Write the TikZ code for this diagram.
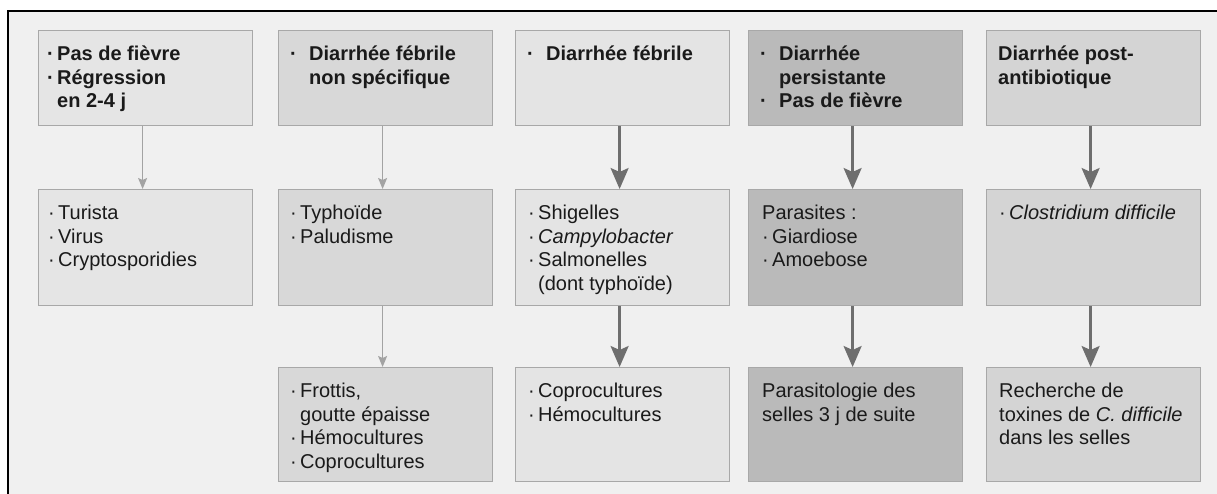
\documentclass[tikz,border=0pt]{standalone}
\usepackage{fontspec}
\setmainfont{Liberation Sans}
\usetikzlibrary{arrows.meta,calc}
\definecolor{bgc}{HTML}{F0F0F0}
\definecolor{cA}{HTML}{E5E5E5}
\definecolor{cB}{HTML}{D8D8D8}
\definecolor{cC}{HTML}{E4E4E4}
\definecolor{cD}{HTML}{BABABA}
\definecolor{cE}{HTML}{D4D4D4}
\definecolor{bordc}{HTML}{A8A8A8}
\definecolor{thinc}{HTML}{A3A3A3}
\definecolor{thickc}{HTML}{6E6E6E}
\definecolor{txtc}{HTML}{1A1A1A}
\newcommand\bl{\makebox[10pt][l]{·}}
\newcommand\bw{\makebox[19pt][l]{·}}
\newcommand\ia{\hspace*{10pt}}
\newcommand\iw{\hspace*{19pt}}
\newcommand\lines[1]{\begin{tabular}[t]{@{}l@{}}#1\end{tabular}}
\begin{document}
\begin{tikzpicture}[x=1pt,y=-1pt,
  boxA/.style={draw=bordc, line width=1.2pt, minimum width=214pt, anchor=north west, inner sep=0pt},
  rowone/.style={boxA, minimum height=95pt},
  rowtwo/.style={boxA, minimum height=116pt},
  rowthree/.style={boxA, minimum height=114pt},
  txt/.style={anchor=base west, inner sep=0pt, text=txtc, font=\fontsize{20}{23.5}\selectfont},
  btxt/.style={txt, font=\fontsize{20}{23.5}\selectfont\bfseries},
  thinarrow/.style={draw=thinc, line width=1.2pt, -{Stealth[length=11pt,width=9pt,inset=2pt]}},
  thickarrow/.style={draw=thickc, line width=2.4pt, -{Stealth[length=21pt,width=18pt,inset=4pt]}}
]
\useasboundingbox (0,0) rectangle (1217,493);
\clip (0,0) rectangle (1217,493);
\fill[white] (0,0) rectangle (1217,493);
\fill[bgc] (8,11) rectangle (1225,500);
\draw[black, line width=1.6pt] (8,500) -- (8,11) -- (1225,11);

% row 1
\node[rowone, fill=cA] (b11) at (38,30) {};
\node[rowone, fill=cB] (b12) at (278,30) {};
\node[rowone, fill=cC] (b13) at (515,30) {};
\node[rowone, fill=cD] (b14) at (748,30) {};
\node[rowone, fill=cE] (b15) at (986,30) {};
% row 2
\node[rowtwo, fill=cA] (b21) at (38,189) {};
\node[rowtwo, fill=cB] (b22) at (278,189) {};
\node[rowtwo, fill=cC] (b23) at (515,189) {};
\node[rowtwo, fill=cD] (b24) at (748,189) {};
\node[rowtwo, fill=cE] (b25) at (986,189) {};
% row 3
\node[rowthree, fill=cB] (b32) at (278,367) {};
\node[rowthree, fill=cC] (b33) at (515,367) {};
\node[rowthree, fill=cD] (b34) at (748,367) {};
\node[rowthree, fill=cE] (b35) at (986,367) {};

% texts row 1
\node[btxt] (t11) at ($(b11.north west)+(9,30.5)$) {\lines{\bl Pas de fièvre\\ \bl Régression\\ \ia en 2-4 j}};
\node[btxt] (t12) at ($(b12.north west)+(12,30.5)$) {\lines{\bw Diarrhée fébrile\\ \iw non spécifique}};
\node[btxt] (t13) at ($(b13.north west)+(12,30.5)$) {\lines{\bw Diarrhée fébrile}};
\node[btxt] (t14) at ($(b14.north west)+(12,30.5)$) {\lines{\bw Diarrhée\\ \iw persistante\\ \bw Pas de fièvre}};
\node[btxt] (t15) at ($(b15.north west)+(12,30.5)$) {\lines{Diarrhée post-\\ antibiotique}};

% texts row 2
\node[txt] (t21) at ($(b21.north west)+(10,30.5)$) {\lines{\bl Turista\\ \bl Virus\\ \bl Cryptosporidies}};
\node[txt] (t22) at ($(b22.north west)+(12,30.5)$) {\lines{\bl Typhoïde\\ \bl Paludisme}};
\node[txt] (t23) at ($(b23.north west)+(13,30.5)$) {\lines{\bl Shigelles\\ \bl \textit{Campylobacter}\\ \bl Salmonelles\\ \ia (dont typhoïde)}};
\node[txt] (t24) at ($(b24.north west)+(14,30.5)$) {\lines{Parasites :\\ \bl Giardiose\\ \bl Amoebose}};
\node[txt] (t25) at ($(b25.north west)+(13,30.5)$) {\lines{\bl \textit{Clostridium difficile}}};

% texts row 3
\node[txt] (t32) at ($(b32.north west)+(12,30.5)$) {\lines{\bl Frottis,\\ \ia goutte épaisse\\ \bl Hémocultures\\ \bl Coprocultures}};
\node[txt] (t33) at ($(b33.north west)+(13,30.5)$) {\lines{\bl Coprocultures\\ \bl Hémocultures}};
\node[txt] (t34) at ($(b34.north west)+(14,30.5)$) {\lines{Parasitologie des\\ selles 3 j de suite}};
\node[txt] (t35) at ($(b35.north west)+(13,30.5)$) {\lines{Recherche de\\ toxines de \textit{C. difficile}\\ dans les selles}};

% arrows
\draw[thinarrow] ([xshift=-3pt]b11.south) -- ([xshift=-3pt]b21.north);
\draw[thinarrow] ([xshift=-3pt]b12.south) -- ([xshift=-3pt]b22.north);
\draw[thinarrow] ([xshift=-3pt]b22.south) -- ([xshift=-3pt]b32.north);
\draw[thickarrow] ([xshift=-3pt]b13.south) -- ([xshift=-3pt]b23.north);
\draw[thickarrow] ([xshift=-3pt]b23.south) -- ([xshift=-3pt]b33.north);
\draw[thickarrow] ([xshift=-3pt]b14.south) -- ([xshift=-3pt]b24.north);
\draw[thickarrow] ([xshift=-3pt]b24.south) -- ([xshift=-3pt]b34.north);
\draw[thickarrow] ([xshift=-3pt]b15.south) -- ([xshift=-3pt]b25.north);
\draw[thickarrow] ([xshift=-3pt]b25.south) -- ([xshift=-3pt]b35.north);
\end{tikzpicture}
\end{document}
